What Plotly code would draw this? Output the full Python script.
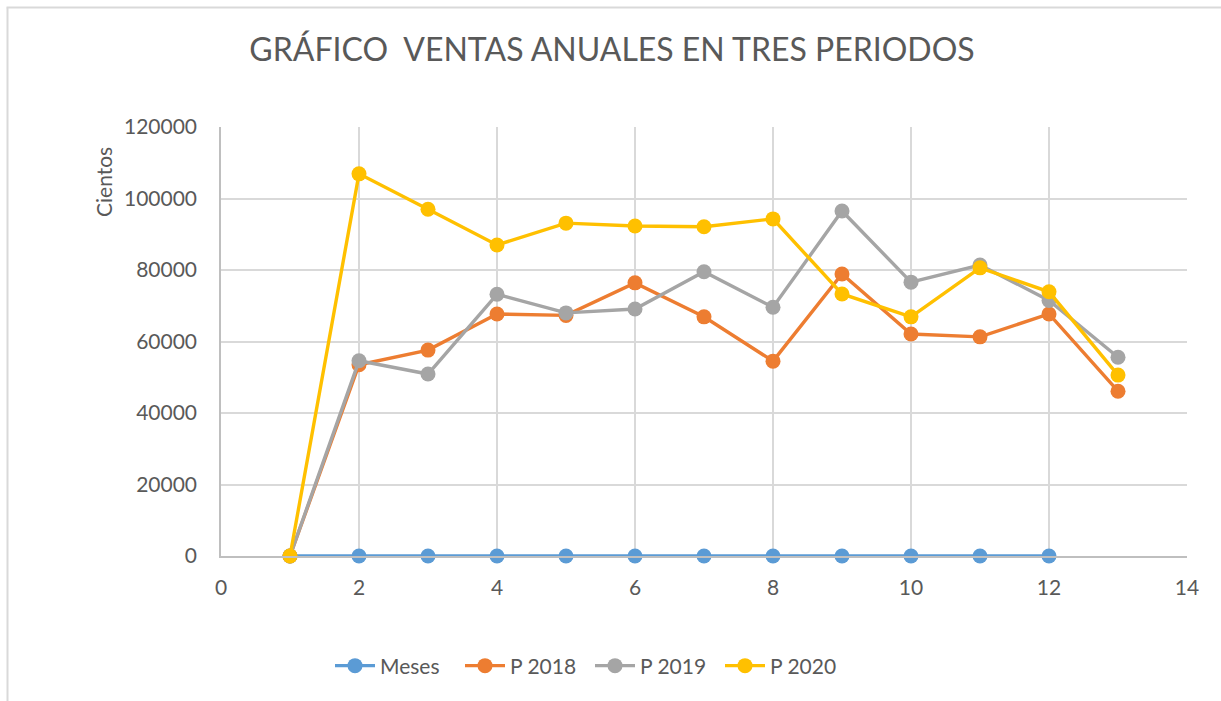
import plotly.graph_objects as go

x_meses = [1, 2, 3, 4, 5, 6, 7, 8, 9, 10, 11, 12]
meses = [1, 2, 3, 4, 5, 6, 7, 8, 9, 10, 11, 12]
x_periodos = [1, 2, 3, 4, 5, 6, 7, 8, 9, 10, 11, 12, 13]
p2018 = [0, 53500, 57600, 67700, 67300, 76400, 66900, 54500, 78900, 62100, 61300, 67700, 46100]
p2019 = [0, 54600, 50900, 73200, 68000, 69100, 79500, 69600, 96500, 76600, 81400, 71500, 55600]
p2020 = [0, 106900, 97000, 87000, 93100, 92300, 92100, 94300, 73300, 66900, 80600, 73900, 50600]

FONT = "Lato"
TXT = "#595959"

fig = go.Figure()
series = [
    ("Meses", x_meses, meses, "#5b9bd5"),
    ("P 2018", x_periodos, p2018, "#ed7d31"),
    ("P 2019", x_periodos, p2019, "#a5a5a5"),
    ("P 2020", x_periodos, p2020, "#ffc000"),
]
for name, xs, ys, col in series:
    fig.add_trace(go.Scatter(
        x=xs, y=ys, name=name, mode="lines+markers",
        line=dict(color=col, width=3.4),
        marker=dict(color=col, size=15),
        cliponaxis=False,
    ))

fx = (7.5 - 221) / 966
fy = (556 - 7.5) / 429
fig.update_layout(
    width=1221, height=701,
    paper_bgcolor="white", plot_bgcolor="white",
    margin=dict(l=221, r=34, t=127, b=145),
    title=dict(text="GRÁFICO  VENTAS ANUALES EN TRES PERIODOS",
               x=612 / 1221, xanchor="center", y=1 - 50 / 701, yanchor="middle",
               font=dict(family=FONT, size=32, color=TXT)),
    font=dict(family=FONT, size=20, color=TXT),
    legend=dict(orientation="h", x=(590 - 221) / 966, xanchor="center",
                y=(556 - 666) / 429, yanchor="middle",
                font=dict(family=FONT, size=21, color=TXT),
                itemwidth=40, entrywidth=75, entrywidthmode="pixels",
                traceorder="normal"),
    shapes=[
        dict(type="line", xref="paper", yref="paper", x0=fx - 0.001, x1=1.1, y0=fy, y1=fy,
             line=dict(color="#d9d9d9", width=2), layer="above"),
        dict(type="line", xref="paper", yref="paper", x0=fx, x1=fx, y0=-0.4, y1=fy,
             line=dict(color="#d9d9d9", width=2), layer="above"),
    ],
    annotations=[dict(text="Cientos", xref="paper", yref="paper",
                      x=(103 - 221) / 966, y=(556 - 182) / 429,
                      xanchor="center", yanchor="middle", textangle=-90,
                      showarrow=False, font=dict(family=FONT, size=21, color=TXT))],
)
fig.update_xaxes(range=[0, 14], dtick=2, tick0=0, showgrid=True, gridcolor="#d9d9d9",
                 gridwidth=1.5, showline=True, linecolor="#bfbfbf", linewidth=1.5,
                 zeroline=False, ticks="", ticklabelstandoff=12,
                 tickfont=dict(family=FONT, size=21, color=TXT))
fig.update_yaxes(range=[0, 120000], dtick=20000, tickformat="d", showgrid=True,
                 gridcolor="#d9d9d9", gridwidth=1.5, showline=True, linecolor="#bfbfbf",
                 linewidth=1.5, zeroline=False, ticks="", ticklabelstandoff=18,
                 tickfont=dict(family=FONT, size=21, color=TXT))

fig.write_html("out.html", config={"displayModeBar": False},
               post_script="document.body.style.margin='0px';document.body.style.overflow='hidden';")
